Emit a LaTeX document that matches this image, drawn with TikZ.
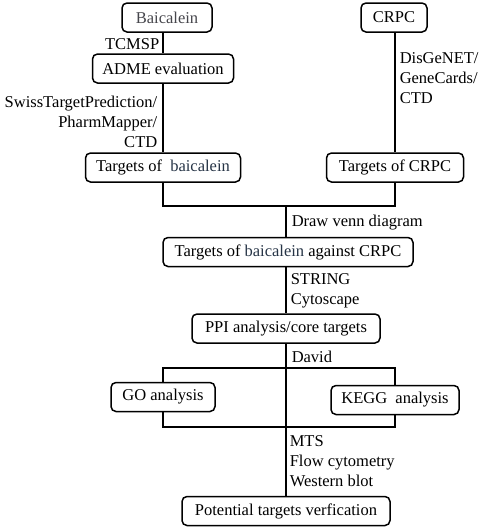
\documentclass[tikz,border=0pt]{standalone}
\usepackage{fontspec}
\setmainfont{Liberation Serif}
\definecolor{herbgray}{RGB}{70,70,76}
\definecolor{herbblue}{RGB}{38,52,70}
\tikzset{
  stepbox/.style={draw, rounded corners=5pt, line width=1.5pt, minimum height=29pt,
    inner sep=0pt, font=\fontsize{16.5}{20}\selectfont},
  tool/.style={inner sep=0pt, font=\fontsize{16.5}{20}\selectfont}
}
\begin{document}
\begin{tikzpicture}[x=1pt, y=-1pt, line width=1.5pt]
      \useasboundingbox (0,0) rectangle (484,528);
      \draw
        (167,17.5) node[stepbox, minimum width=90pt] (baic){\textcolor{herbgray}{Baicalein}}
        (394,17.5) node[stepbox, minimum width=66pt] (crpc){CRPC}
        (163,68.5) node[stepbox, minimum width=141pt] (adme){ADME evaluation}
        (163,167.5) node[stepbox, minimum width=155pt] (trgb){Targets of\ \ \textcolor{herbblue}{baicalein}}
        (395,167.5) node[stepbox, minimum width=137pt] (trgc){Targets of CRPC}
        (288,252) node[stepbox, minimum width=250pt] (common){Targets of \textcolor{herbblue}{baicalein} against CRPC}
        (286,328.5) node[stepbox, minimum width=188pt] (ppi){PPI analysis/core targets}
        (163,397) node[stepbox, minimum width=104pt] (go){GO analysis}
        (395,400) node[stepbox, minimum width=128pt] (kegg){KEGG\ \ analysis}
        (286,511) node[stepbox, minimum width=208pt] (verif){Potential targets verfication};
      \draw
        (160,44) node[tool, anchor=east] (tcmsp){TCMSP}
        (158,122) node[tool, anchor=east, align=right] (swiss){SwissTargetPrediction/\\PharmMapper/\\CTD}
        (399,78) node[tool, anchor=west, align=left] (disg){DisGeNET/\\GeneCards/\\CTD}
        (291,223) node[tool, anchor=west] (venn){Draw venn diagram}
        (290,291) node[tool, anchor=west, align=left] (string){STRING\\Cytoscape}
        (291,357) node[tool, anchor=west] (david){David}
        (289,461) node[tool, anchor=west, align=left] (assay){MTS\\Flow cytometry\\Western blot};
      \coordinate (j1) at (286,206);
      \coordinate (j2) at (286,368);
      \coordinate (j3) at (286,427);
      \begin{scope}[-]
        \draw (adme.north |- baic.south) to (adme.north);
        \draw (adme) to (trgb);
        \draw (crpc.south -| trgc.north) to (trgc.north);
        \draw (trgb.south) |- (j1) -| (trgc.south);
        \draw (j1) to (j1 |- common.north);
        \draw (j1 |- common.south) to (ppi.north);
        \draw (ppi) to (verif);
        \draw (go.north) |- (j2) -| (kegg.north);
        \draw (go.south) |- (j3) -| (kegg.south);
      \end{scope}
    \end{tikzpicture}
\end{document}
